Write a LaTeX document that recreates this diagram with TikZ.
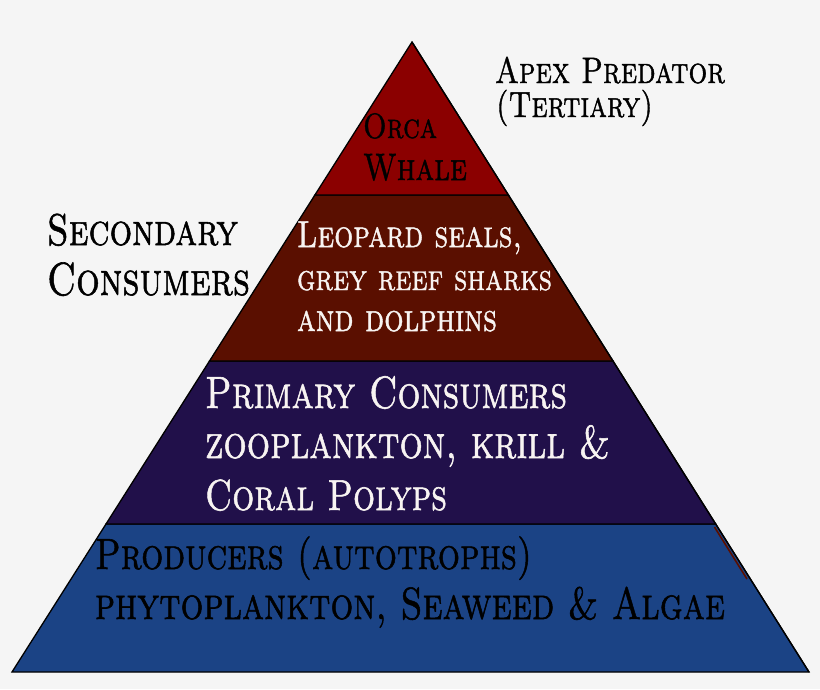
\documentclass[tikz,border=0pt]{standalone}
\usepackage{graphicx}
\usepackage{fontspec}
\newfontfamily\scf{lmromancaps10-regular}[Extension=.otf, FakeBold=1.3]
\definecolor{bgc}{HTML}{F5F5F5}
\definecolor{tierred}{HTML}{8B0000}
\definecolor{tierbrown}{HTML}{5A0F00}
\definecolor{tierpurple}{HTML}{21104A}
\definecolor{tierblue}{HTML}{1B4385}
\definecolor{offwhite}{HTML}{F8F4F2}
\newcommand\fitw[2]{\scalebox{1}[1.25]{\resizebox{#1pt}{!}{\scf #2}}}
\begin{document}
\begin{tikzpicture}[x=1pt,y=-1pt,
  lbl/.style={anchor=base west, inner sep=0pt, outer sep=0pt},
  tier/.style={draw=black, line width=1.3pt, line join=miter}]
\useasboundingbox (0,0) rectangle (820,689);
\fill[bgc] (0,0) rectangle (820,689);
% pyramid tiers
\filldraw[tier, fill=tierblue] (106,524) -- (715.7,524) -- (809,672) -- (12,672) -- cycle;
\draw[tierbrown, line width=1.6pt] (714.5,527) -- (747,579);
\filldraw[tier, fill=tierpurple] (209.5,361) -- (613,361) -- (715.7,524) -- (106,524) -- cycle;
\filldraw[tier, fill=tierbrown] (314.9,195) -- (508.4,195) -- (613,361) -- (209.5,361) -- cycle;
\filldraw[tier, fill=tierred] (412,42) -- (508.4,195) -- (314.9,195) -- cycle;
\draw[black, line width=1.3pt] (412,42) -- (809,672);
% labels
\node[lbl] (orca) at (363,138) {\fitw{74}{Orca}};
\node[lbl] (whale) at (363,180) {\fitw{104}{Whale}};
\node[lbl] (apex) at (495,83) {\fitw{230}{Apex Predator}};
\node[lbl] (tert) at (496,117) {\fitw{157}{(Tertiary)}};
\node[lbl] (sec) at (47,245) {\fitw{191}{Secondary}};
\node[lbl] (cons) at (47,295) {\fitw{203}{Consumers}};
\node[lbl, text=offwhite] (leo) at (297,247) {\fitw{225}{Leopard seals,}};
\node[lbl, text=offwhite] (grey) at (297,290) {\fitw{255}{grey reef sharks}};
\node[lbl, text=offwhite] (dolph) at (297,331) {\fitw{200}{and dolphins}};
\node[lbl, text=offwhite] (prim) at (205,408) {\fitw{362}{Primary Consumers}};
\node[lbl, text=offwhite] (zoo) at (205,458) {\fitw{405}{zooplankton, krill \&}};
\node[lbl, text=offwhite] (coral) at (205,510) {\fitw{242}{Coral Polyps}};
\node[lbl] (prod) at (95,569) {\fitw{437}{Producers (autotrophs)}};
\node[lbl] (phyto) at (95,619) {\fitw{630}{phytoplankton, Seaweed \& Algae}};
\end{tikzpicture}
\end{document}
